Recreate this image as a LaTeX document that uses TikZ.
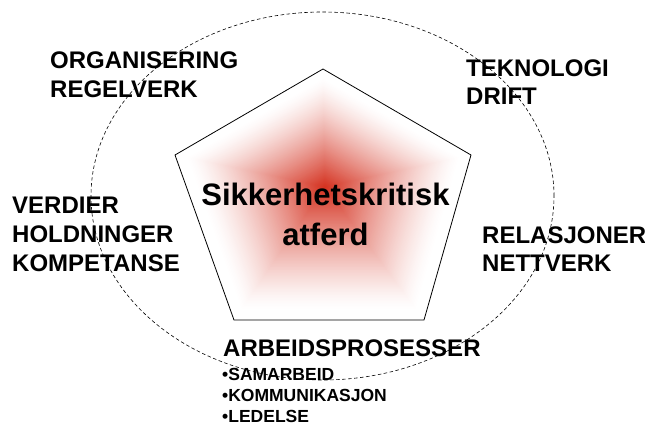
\documentclass[tikz,border=0pt]{standalone}
\usepackage{fontspec}
\setmainfont{Liberation Sans}
\definecolor{corered}{RGB}{212,48,30}
\tikzset{
  biglabel/.style={anchor=base west, inner sep=0pt, font=\bfseries\fontsize{24}{29}\selectfont},
  smalllabel/.style={anchor=base west, inner sep=0pt, font=\bfseries\fontsize{17.5}{20}\selectfont},
  centerlabel/.style={anchor=base, inner sep=0pt, font=\bfseries\fontsize{31}{38}\selectfont},
  penta/.style={draw=black, line width=0.8pt, line join=miter},
  orbit/.style={draw=black, line width=0.6pt, dash pattern=on 3.5pt off 2.5pt},
}
\begin{document}
\begin{tikzpicture}[x=1pt,y=-1pt]
\useasboundingbox (0,0) rectangle (645,425);
% gradient inside the pentagon (nested pentagons)
\coordinate (gc) at (325,187);
\foreach \i in {0,...,90}{
  \pgfmathsetmacro\s{1-\i/90}
  \pgfmathsetmacro\t{max(0,(0.92-\s)/0.92)}
  \pgfmathsetmacro\p{100*(\t^1.3)}
  \fill[corered!\p!white, shift={(gc)}, scale=\s]
    (-2,-118) -- (146,-32) -- (99,133) -- (-91,133) -- (-150,-32) -- cycle;
}
% pentagon outline
\coordinate (pt) at (323,69);
\coordinate (pr) at (471,155);
\coordinate (pbr) at (424,320);
\coordinate (pbl) at (234,320);
\coordinate (pl) at (175,155);
\draw[penta] (pt) -- (pr) -- (pbr) -- (pbl) -- (pl) -- cycle;
% center text
\node[centerlabel] (c1) at (325.5,205) {Sikkerhetskritisk};
\node[centerlabel] (c2) at (325.5,245) {atferd};
% outer labels
\node[biglabel] (org) at (50,69) {ORGANISERING};
\node[biglabel] (reg) at (50,98) {REGELVERK};
\node[biglabel] (tek) at (466,77) {TEKNOLOGI};
\node[biglabel] (dri) at (466,105) {DRIFT};
\node[biglabel] (ver) at (12,213) {VERDIER};
\node[biglabel] (hol) at (12,242) {HOLDNINGER};
\node[biglabel] (kom) at (12,271) {KOMPETANSE};
\node[biglabel] (rel) at (482,243) {RELASJONER};
\node[biglabel] (net) at (482,271) {NETTVERK};
\node[biglabel] (arb) at (223,356) {ARBEIDSPROSESSER};
\node[smalllabel] (sam) at (222,380) {•SAMARBEID};
\node[smalllabel] (kmk) at (222,401) {•KOMMUNIKASJON};
\node[smalllabel] (led) at (222,422) {•LEDELSE};
% dashed ellipse
\draw[orbit] (322.5,196) ellipse [x radius=231.5pt, y radius=184pt];
\end{tikzpicture}
\end{document}
